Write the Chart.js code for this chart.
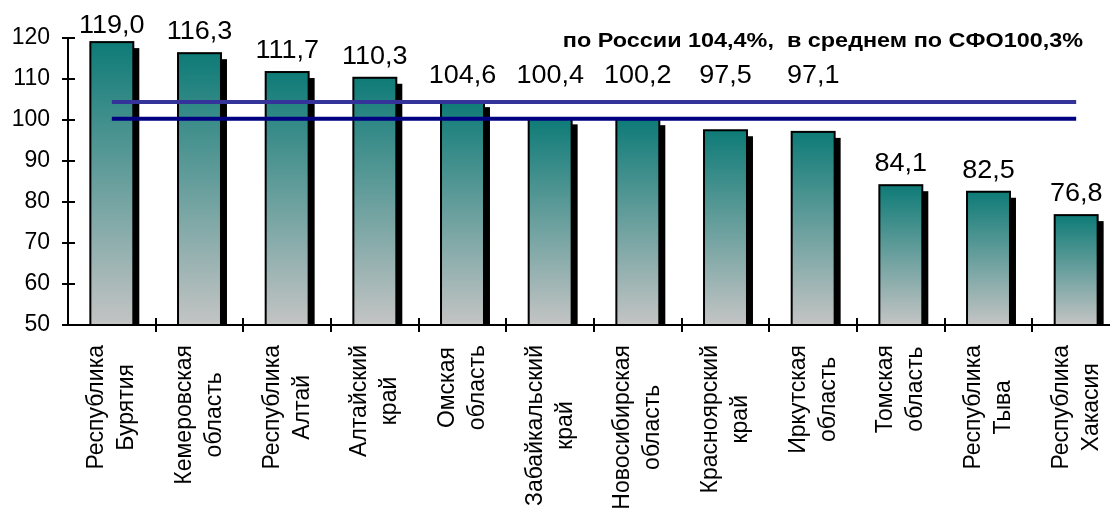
<!DOCTYPE html>
<html>
<head>
<meta charset="utf-8">
<script src="https://cdn.jsdelivr.net/npm/chart.js@4"></script>
<style>
  html, body { margin: 0; padding: 0; background: #fff; overflow: hidden; }
  #wrap { width: 1120px; height: 513px; }
</style>
</head>
<body>
<div id="wrap"><canvas id="regionChart"></canvas></div>
<script>
const regions = [
    ['Республика', 'Бурятия'],
    ['Кемеровская', 'область'],
    ['Республика', 'Алтай'],
    ['Алтайский', 'край'],
    ['Омская', 'область'],
    ['Забайкальский', 'край'],
    ['Новосибирская', 'область'],
    ['Красноярский', 'край'],
    ['Иркутская', 'область'],
    ['Томская', 'область'],
    ['Республика', 'Тыва'],
    ['Республика', 'Хакасия']
];
const values = [119.0, 116.3, 111.7, 110.3, 104.6, 100.4, 100.2, 97.5, 97.1, 84.1, 82.5, 76.8];
const russiaLevel = [104.4, 104.4, 104.4, 104.4, 104.4, 104.4, 104.4, 104.4, 104.4, 104.4, 104.4, 104.4];
const sfoLevel = [100.3, 100.3, 100.3, 100.3, 100.3, 100.3, 100.3, 100.3, 100.3, 100.3, 100.3, 100.3];
const yMin = 50;
const yMax = 120;
const yStep = 10;
const noteText = 'по России 104,4%,  в среднем по СФО100,3%';

const FONT = '"Liberation Sans", Arial, sans-serif';

function barGradient(context) {
    const chart = context.chart;
    const y = chart.scales.y;
    if (!chart.chartArea || !y) return '#5a9996';
    const top = y.getPixelForValue(context.raw);
    const bottom = y.getPixelForValue(yMin);
    const g = chart.ctx.createLinearGradient(0, top, 0, bottom);
    g.addColorStop(0, '#0e7b77');
    g.addColorStop(1, '#c4c4c4');
    return g;
}

// bars grow from 0, so cut them at the bottom of the plot
function barRects(chart) {
    const bottom = chart.chartArea.bottom;
    return chart.getDatasetMeta(0).data.map(bar => {
        const p = bar.getProps(['x', 'y', 'base', 'width'], true);
        return { left: p.x - p.width / 2, top: p.y, w: p.width, h: Math.min(p.base, bottom) - p.y };
    });
}

// black drop shadow under the bars and a black outline on top
const barFrame = {
    id: 'barFrame',
    beforeDatasetDraw(chart, args) {
        if (args.index !== 0) return;
        const ctx = chart.ctx;
        ctx.save();
        ctx.fillStyle = '#000';
        barRects(chart).forEach(r => ctx.fillRect(r.left + 6, r.top + 6, r.w, r.h - 6));
        ctx.restore();
    },
    afterDatasetDraw(chart, args) {
        if (args.index !== 0) return;
        const ctx = chart.ctx;
        ctx.save();
        ctx.strokeStyle = '#000';
        ctx.lineWidth = 2;
        barRects(chart).forEach(r => ctx.strokeRect(r.left, r.top, r.w, r.h));
        ctx.restore();
    }
};

// tick marks that cross the axis lines, like in Excel
const crossTicks = {
    id: 'crossTicks',
    afterDraw(chart) {
        const ctx = chart.ctx;
        const x = chart.scales.x;
        const y = chart.scales.y;
        const area = chart.chartArea;
        ctx.save();
        ctx.strokeStyle = '#000';
        ctx.lineWidth = 2;
        ctx.beginPath();
        for (let v = yMin; v <= yMax; v += yStep) {
            const py = Math.round(y.getPixelForValue(v));
            ctx.moveTo(area.left - 6, py);
            ctx.lineTo(area.left + 7, py);
        }
        for (let i = 1; i <= regions.length; i++) {
            const px = Math.round(x.getPixelForValue(i - 0.5));
            ctx.moveTo(px, area.bottom - 7);
            ctx.lineTo(px, area.bottom + 7);
        }
        ctx.stroke();
        ctx.restore();
    }
};

// rotated two-line category names, lines centred inside the block
const categoryLabels = {
    id: 'categoryLabels',
    afterDraw(chart) {
        const ctx = chart.ctx;
        const x = chart.scales.x;
        const top = chart.chartArea.bottom + 20;
        ctx.save();
        ctx.font = '23px ' + FONT;
        ctx.fillStyle = '#000';
        ctx.textAlign = 'center';
        ctx.textBaseline = 'middle';
        regions.forEach((lines, i) => {
            const cx = x.getPixelForValue(i);
            const w = Math.max(...lines.map(l => ctx.measureText(l).width));
            ctx.save();
            ctx.translate(cx, top);
            ctx.rotate(-Math.PI / 2);
            lines.forEach((l, k) => {
                ctx.fillText(l, -w / 2, (k - (lines.length - 1) / 2) * 30);
            });
            ctx.restore();
        });
        ctx.restore();
    }
};

// values above the bars; labels that would hit the reference lines go above them
const valueLabels = {
    id: 'valueLabels',
    afterDraw(chart) {
        const ctx = chart.ctx;
        const y = chart.scales.y;
        const meta = chart.getDatasetMeta(0);
        const refTop = y.getPixelForValue(Math.max(russiaLevel[0], sfoLevel[0]));
        const refBottom = y.getPixelForValue(Math.min(russiaLevel[0], sfoLevel[0]));
        ctx.save();
        ctx.font = '25px ' + FONT;
        ctx.fillStyle = '#000';
        ctx.textAlign = 'center';
        ctx.textBaseline = 'alphabetic';
        meta.data.forEach((bar, i) => {
            let base = bar.y - 14;
            if (bar.y > refTop - 20 && bar.y < refBottom + 40) base = refTop - 19;
            base = Math.max(base, 33);
            ctx.save();
            ctx.translate(bar.x, base);
            ctx.scale(1.08, 1);
            ctx.fillText(values[i].toFixed(1).replace('.', ','), 0, 0);
            ctx.restore();
        });
        ctx.restore();
    }
};

const noteLabel = {
    id: 'noteLabel',
    afterDraw(chart) {
        const ctx = chart.ctx;
        ctx.save();
        ctx.font = 'bold 20px ' + FONT;
        ctx.fillStyle = '#000';
        ctx.textAlign = 'right';
        ctx.textBaseline = 'alphabetic';
        ctx.translate(1083, 47);
        ctx.scale(1.17, 1);
        ctx.fillText(noteText, 0, 0);
        ctx.restore();
    }
};

const chartData = {
    labels: regions,
    datasets: [
        {
            type: 'bar',
            data: values,
            order: 1,
            backgroundColor: barGradient,
            borderWidth: 0,
            categoryPercentage: 1,
            barPercentage: 0.49
        },
        {
            type: 'line',
            data: russiaLevel,
            order: 0,
            borderColor: '#333399',
            borderWidth: 4,
            pointRadius: 0,
            fill: false
        },
        {
            type: 'line',
            data: sfoLevel,
            order: 0,
            borderColor: '#000080',
            borderWidth: 4,
            pointRadius: 0,
            fill: false
        }
    ]
};

const config = {
    type: 'bar',
    data: chartData,
    options: {
        responsive: true,
        maintainAspectRatio: false,
        animation: false,
        layout: { padding: { top: 38, left: 0, right: 0, bottom: 0 } },
        plugins: {
            legend: { display: false },
            title: { display: false },
            tooltip: { enabled: false }
        },
        scales: {
            x: {
                z: 1,
                offset: true,
                grid: { display: false },
                border: { display: true, color: '#000', width: 2 },
                ticks: { display: false },
                afterFit(scale) { scale.height = 188; }
            },
            y: {
                z: 1,
                min: yMin,
                max: yMax,
                grid: { display: false },
                border: { display: true, color: '#000', width: 2 },
                ticks: {
                    stepSize: yStep,
                    color: '#000',
                    padding: 10,
                    font: { family: FONT, size: 23 }
                },
                afterFit(scale) { scale.width = 68; }
            }
        }
    },
    plugins: [barFrame, crossTicks, categoryLabels, valueLabels, noteLabel]
};

const regionChart = new Chart(document.getElementById('regionChart'), config);
</script>
</body>
</html>
